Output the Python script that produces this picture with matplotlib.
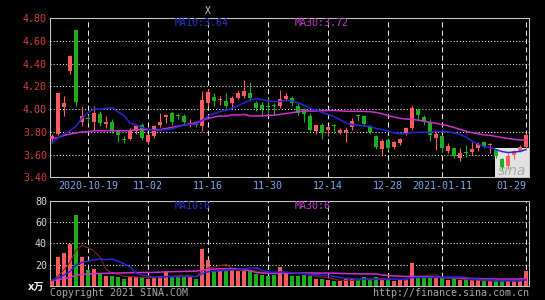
import matplotlib
matplotlib.use("Agg")
import matplotlib.pyplot as plt
from matplotlib.patches import Rectangle
import numpy as np
import pandas as pd

# ---------------- data ----------------
open_ = [3.74, 3.78, 4.02, 4.34, 4.70, 3.89, 3.92, 3.89, 3.96, 3.87,
         3.89, 3.81, 3.74, 3.74, 3.81, 3.86, 3.71, 3.76, 3.86, 3.93,
         3.97, 3.95, 3.94, 3.86, 3.88, 3.85, 4.05, 4.11, 4.08, 4.07,
         4.05, 4.10, 4.12, 4.14, 4.05, 4.04, 4.03, 4.04, 4.03, 4.09,
         4.10, 4.03, 4.00, 3.94, 3.81, 3.86, 3.82, 3.86, 3.79, 3.80,
         3.84, 3.95, 3.94, 3.85, 3.76, 3.65, 3.73, 3.67, 3.70, 3.78,
         3.83, 3.99, 3.93, 3.89, 3.75, 3.76, 3.63, 3.66, 3.57, 3.62,
         3.62, 3.66, 3.71, 3.68, 3.64, 3.56, 3.50, 3.60, 3.63, 3.67]
close = [3.76, 4.14, 4.05, 4.47, 4.06, 3.94, 3.91, 3.97, 3.88, 3.89,
         3.82, 3.77, 3.73, 3.82, 3.85, 3.75, 3.77, 3.85, 3.89, 3.95,
         3.89, 3.94, 3.89, 3.88, 3.86, 4.08, 4.15, 4.07, 4.09, 4.03,
         4.10, 4.14, 4.16, 4.10, 4.01, 4.00, 4.02, 4.03, 4.09, 4.12,
         4.05, 3.97, 3.96, 3.82, 3.86, 3.79, 3.84, 3.85, 3.82, 3.82,
         3.90, 3.94, 3.87, 3.80, 3.67, 3.72, 3.66, 3.71, 3.74, 3.83,
         4.01, 3.95, 3.89, 3.77, 3.78, 3.66, 3.68, 3.59, 3.61, 3.61,
         3.65, 3.69, 3.67, 3.69, 3.59, 3.49, 3.59, 3.63, 3.67, 3.77]
high = [3.78, 4.14, 4.12, 4.48, 4.71, 4.03, 3.95, 4.03, 3.98, 3.94,
        3.91, 3.82, 3.76, 3.83, 3.87, 3.88, 3.78, 3.86, 3.97, 3.96,
        3.98, 3.97, 3.96, 3.91, 3.89, 4.16, 4.18, 4.14, 4.12, 4.14,
        4.12, 4.17, 4.26, 4.24, 4.07, 4.06, 4.10, 4.05, 4.17, 4.14,
        4.12, 4.05, 4.01, 3.97, 3.87, 3.88, 3.85, 3.87, 3.83, 3.84,
        3.92, 3.96, 3.95, 3.86, 3.77, 3.74, 3.74, 3.72, 3.75, 3.84,
        4.03, 4.01, 3.95, 3.91, 3.80, 3.77, 3.70, 3.67, 3.66, 3.68,
        3.71, 3.71, 3.72, 3.70, 3.65, 3.57, 3.61, 3.64, 3.68, 3.79]
low = [3.70, 3.77, 3.94, 4.31, 4.03, 3.85, 3.88, 3.82, 3.85, 3.83,
       3.79, 3.71, 3.70, 3.73, 3.78, 3.73, 3.69, 3.75, 3.84, 3.88,
       3.86, 3.91, 3.86, 3.84, 3.84, 3.81, 4.03, 4.03, 4.04, 4.01,
       4.00, 4.09, 4.10, 4.07, 3.98, 3.94, 3.97, 3.95, 4.01, 4.07,
       4.03, 3.95, 3.89, 3.81, 3.78, 3.74, 3.76, 3.79, 3.78, 3.71,
       3.82, 3.90, 3.85, 3.78, 3.65, 3.59, 3.64, 3.65, 3.68, 3.77,
       3.82, 3.90, 3.86, 3.72, 3.64, 3.62, 3.61, 3.57, 3.54, 3.58,
       3.60, 3.63, 3.66, 3.61, 3.57, 3.46, 3.47, 3.56, 3.62, 3.66]
volume = [5, 27, 31, 39.5, 66.5, 27, 14.5, 16, 11, 9,
          9.5, 8, 6.5, 9.5, 8, 8, 6, 7, 9.5, 13,
          9, 9.5, 9, 8, 6.5, 35, 24.5, 14, 14, 14.5,
          14.5, 14, 14, 14.5, 11, 10.5, 9.5, 10.5, 17.5, 12,
          9, 9, 10.5, 9.5, 6, 6.5, 5, 4, 4, 6.5,
          6.5, 5, 8, 6.5, 8, 6, 6, 4, 5, 6,
          21.5, 7, 7, 9, 7, 7, 5, 7, 5, 5,
          5, 5, 4, 4, 4, 5, 5, 5, 5, 13.5]

# moving-average values at the start (they depend on earlier days)
ma10_head = [3.70, 3.75, 3.78, 3.81, 3.85, 3.92, 3.97, 4.00, 4.00]
ma30_head = [3.74, 3.75, 3.77, 3.78, 3.79, 3.80, 3.80, 3.81, 3.81, 3.81,
             3.81, 3.81, 3.81, 3.81, 3.82, 3.82, 3.82, 3.82, 3.82, 3.83,
             3.84, 3.85, 3.86, 3.87, 3.88, 3.90, 3.92, 3.93, 3.94]
vma5_head = [5, 9, 15, 22]
vma10_head = [5.0, 7.3, 10.0, 13.5, 19.7, 21.9, 23.2, 24.4, 25.2]
vma30_head = [5.0, 5.8, 6.7, 7.8, 9.9, 10.6, 11.0, 11.4, 11.6, 11.7,
              11.9, 12.0, 12.1, 12.3, 12.4, 12.5, 12.5, 12.6, 12.8, 13.1,
              13.2, 13.4, 13.5, 13.7, 13.7, 14.7, 15.4, 15.7, 16.0]

date_idx = [6, 16, 26, 36, 46, 56, 65, 79]
date_labels = ["2020-10-19", "11-02", "11-16", "11-30", "12-14", "12-28",
               "2021-01-11", "01-29"]
price_ticks = [3.40, 3.60, 3.80, 4.00, 4.20, 4.40, 4.60, 4.80]
vol_ticks = [20, 40, 60, 80]
ma_price_labels = ["MA10:3.64", "MA30:3.72"]
ma_vol_labels = ["MA10:6", "MA30:6"]

# ---------------- derived ----------------
o = np.array(open_); c = np.array(close); h = np.array(high); l = np.array(low)
v = np.array(volume)
n = len(c)
x = np.arange(n)

def ma(series, win, head):
    m = pd.Series(series).rolling(win).mean().to_numpy()
    m[:len(head)] = head
    return m

ma10 = ma(c, 10, ma10_head)
ma30 = ma(c, 30, ma30_head)
vma5 = ma(v, 5, vma5_head)
vma10 = ma(v, 10, vma10_head)
vma30 = ma(v, 30, vma30_head)

RED = '#fa5c5c'
GREEN = '#1cae1c'
cols = [RED if cc >= oo else GREEN for oo, cc in zip(o, c)]

MONO = 'DejaVu Sans Mono'
FS = 7.2

# ---------------- figure ----------------
W, H = 545, 300
fig = plt.figure(figsize=(W / 100, H / 100), dpi=100, facecolor='black')

def px_axes(x0, y0, x1, y1):
    return fig.add_axes([x0 / W, 1 - y1 / H, (x1 - x0) / W, (y1 - y0) / H])

def ptext(px, py, s, **kw):
    fig.text(px / W, 1 - py / H, s, **kw)

ax = px_axes(50, 18.3, 529.3, 177.3)
axv = px_axes(50, 201, 529.3, 285.7)

xlim = (-0.333, 79.55)
for a in (ax, axv):
    a.set_facecolor('black')
    a.set_xlim(*xlim)
    for s in a.spines.values():
        s.set_color('#c8c8c8')
        s.set_linewidth(0.75)
    a.tick_params(length=0)
    a.set_xticks(date_idx)
    a.grid(axis='x', color='#e6e6e6', linestyle=(0, (5, 3)), linewidth=0.75)
    a.grid(axis='y', color='#f0f0f0', linestyle=(0, (1, 2)), linewidth=0.75)
    a.set_axisbelow(True)

# price panel
ax.set_ylim(3.40, 4.80)
ax.set_yticks(price_ticks)
ax.set_yticklabels([f"{t:.2f}" for t in price_ticks], color='#d83c3c',
                   fontsize=FS, family=MONO)
ax.tick_params(axis='y', pad=2.2)
ax.set_xticklabels(date_labels, color='#7ea6ee', fontsize=FS, family=MONO)
ax.tick_params(axis='x', pad=3.0)
ax.get_xticklabels()[-1].set_ha('right')
ax.get_xticklabels()[-1].set_x(0)

# sina watermark box
ax.add_patch(Rectangle((73.8, 3.40), xlim[1] - 73.8, 0.255, facecolor='#e2e2e2',
                       edgecolor='none', zorder=1))
ax.text(76.7, 3.455, "sina", color='#a8a8a8', fontsize=10, style='italic',
        ha='center', va='center', zorder=1.5)

ax.vlines(x, l, h, colors=cols, linewidth=0.8, zorder=3)
ax.bar(x, np.maximum(np.abs(c - o), 0.009), bottom=np.minimum(o, c), width=0.68,
       color=cols, linewidth=0, zorder=3.5)
ax.plot(x, ma30, color='#d030d0', linewidth=1.1, zorder=4)
ax.plot(x, ma10, color='#2626d6', linewidth=1.1, zorder=4)

# volume panel
axv.set_ylim(0, 80)
axv.set_yticks(vol_ticks)
axv.set_yticklabels([str(t) for t in vol_ticks], color='#d8d8d8', fontsize=FS,
                    family=MONO)
axv.tick_params(axis='y', pad=2.2)
axv.set_xticklabels([])
axv.bar(x, v, width=0.82, color=cols, linewidth=0, zorder=3)
axv.plot(x, vma5, color='#802020', linewidth=0.8, zorder=4)
axv.plot(x, vma30, color='#d030d0', linewidth=1.1, zorder=4)
axv.plot(x, vma10, color='#2626d6', linewidth=1.1, zorder=4)

# labels
ptext(175, 23.5, ma_price_labels[0], color='#2a34cc', fontsize=FS, family=MONO,
      va='center')
ptext(295, 23.5, ma_price_labels[1], color='#c040c8', fontsize=FS, family=MONO,
      va='center')
ptext(175, 205.7, ma_vol_labels[0], color='#2a34cc', fontsize=FS, family=MONO,
      va='center')
ptext(295, 205.7, ma_vol_labels[1], color='#c040c8', fontsize=FS, family=MONO,
      va='center')
ptext(207.5, 11, "X", color='#c8c8c8', fontsize=7, family=MONO, ha='center',
      va='center')
ptext(44, 286.5, "x万", color='#f0f0f0', fontsize=7.2,
      family=['DejaVu Sans', 'Noto Sans CJK SC'], ha='right', va='center',
      fontweight='bold')
ptext(50, 292.5, "Copyright 2021 SINA.COM", color='#a8a8a8', fontsize=FS,
      family=MONO, va='center')
ptext(529, 292.5, "http://finance.sina.com.cn", color='#a8a8a8', fontsize=FS,
      family=MONO, va='center', ha='right')

fig.savefig("out.png", dpi=100, facecolor='black')
